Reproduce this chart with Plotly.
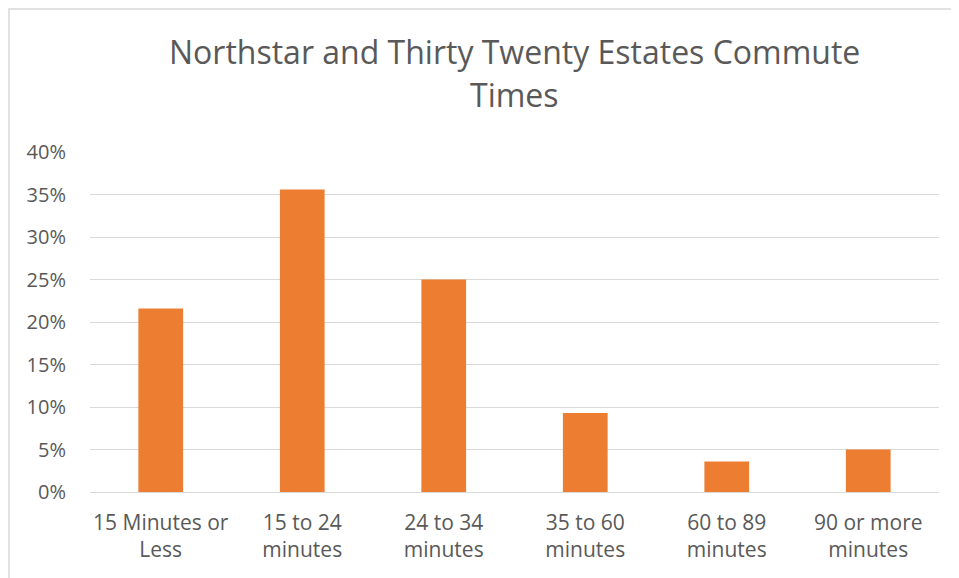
import plotly.graph_objects as go

categories = ["15 Minutes or<br>Less", "15 to 24<br>minutes", "24 to 34<br>minutes",
              "35 to 60<br>minutes", "60 to 89<br>minutes", "90 or more<br>minutes"]
values = [0.216, 0.356, 0.250, 0.093, 0.036, 0.050]
y_ticks = [0, 0.05, 0.10, 0.15, 0.20, 0.25, 0.30, 0.35, 0.40]
y_tick_text = ["0%", "5%", "10%", "15%", "20%", "25%", "30%", "35%", "40%"]
title_lines = ["Northstar and Thirty Twenty Estates Commute", "Times"]

W, H = 951, 570
ML, MR, MT, MB = 82, 20, 144, 86
pw = W - ML - MR
ph = H - MT - MB

fig = go.Figure(go.Bar(x=categories, y=values, marker=dict(color="#ED7D31", line=dict(width=0)),
                       width=0.316))

font_family = "'Open Sans', Lato, sans-serif"
fig.update_layout(
    width=W, height=H,
    margin=dict(l=ML, r=MR, t=MT, b=MB),
    paper_bgcolor="white", plot_bgcolor="white",
    showlegend=False,
    font=dict(family=font_family, color="#595959"),
    bargap=0.684,
)
title_y_px = [44, 87]
for line, ypx in zip(title_lines, title_y_px):
    fig.add_annotation(text=line, xref="paper", yref="paper", x=0.5, xanchor="center",
                       y=(H - MB - ypx) / ph, yanchor="middle", showarrow=False,
                       font=dict(family=font_family, size=32, color="#595959"))

fig.update_xaxes(showgrid=False, showline=False, ticks="",
                 tickfont=dict(size=21, color="#595959"), ticklabelstandoff=16)
fig.update_yaxes(range=[0, 0.40], tickvals=y_ticks, ticktext=y_tick_text,
                 showgrid=True, gridcolor="#D9D9D9", gridwidth=1.3,
                 zeroline=True, zerolinecolor="#D9D9D9", zerolinewidth=1.3,
                 showline=False, ticks="", tickfont=dict(size=20, color="#595959"),
                 ticklabelstandoff=23)

# outer chart frame
fig.add_shape(type="rect", xref="paper", yref="paper",
              x0=(1 - ML) / pw, x1=(W + 10 - ML) / pw,
              y0=-(MB + 10) / ph, y1=(H - MB - 1) / ph,
              line=dict(color="#D9D9D9", width=1.5), layer="below")

fig.write_html("out.html")
